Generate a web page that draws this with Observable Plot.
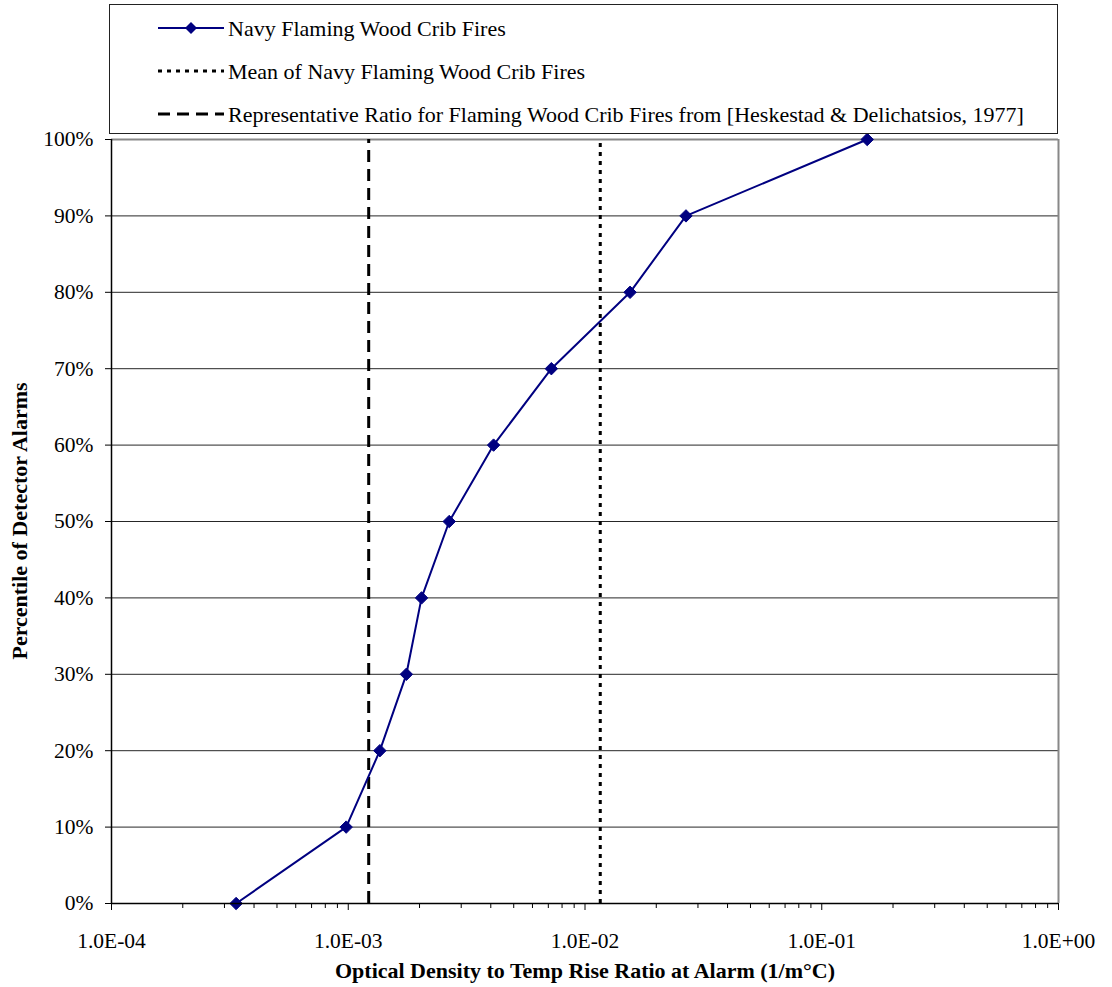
<!DOCTYPE html>
<html>
<head>
<meta charset="utf-8">
<script src="https://cdn.jsdelivr.net/npm/d3@7"></script>
<script src="https://cdn.jsdelivr.net/npm/@observablehq/plot@0.6"></script>
<style>
  html, body { margin: 0; padding: 0; background: #fff; }
  #wrap { position: relative; width: 1112px; height: 987px; font-family: 'Liberation Serif', 'Times New Roman', serif; }
  #wrap svg, #wrap svg text { font-family: 'Liberation Serif', 'Times New Roman', serif !important; }
  #legend { position: absolute; left: 109px; top: 4px; width: 947px; height: 128px; border: 1px solid #222; background: #fff; }
  #legend svg { position: absolute; left: 0; top: 0; }
</style>
</head>
<body>
<div id="wrap"></div>
<script>
// ---- data ----
const percentiles = [0, 0.1, 0.2, 0.3, 0.4, 0.5, 0.6, 0.7, 0.8, 0.9, 1.0];
const ratios = [3.36e-4, 9.8e-4, 1.36e-3, 1.76e-3, 2.04e-3, 2.67e-3, 4.11e-3, 7.21e-3, 1.55e-2, 2.67e-2, 0.1556];
const meanRatio = 1.16e-2;
const representativeRatio = 1.22e-3;
const xMajorTicks = [1e-4, 1e-3, 1e-2, 1e-1, 1];
const yTicks = [0, 0.1, 0.2, 0.3, 0.4, 0.5, 0.6, 0.7, 0.8, 0.9, 1.0];
const seriesNames = [
  "Navy Flaming Wood Crib Fires",
  "Mean of Navy Flaming Wood Crib Fires",
  "Representative Ratio for Flaming Wood Crib Fires from [Heskestad & Delichatsios, 1977]"
];
const xTitle = "Optical Density to Temp Rise Ratio at Alarm (1/m°C)";
const yTitle = "Percentile of Detector Alarms";

const data = percentiles.map((p, i) => ({ratio: ratios[i], pct: p}));
const xMinorTicks = [];
for (let e = -4; e < 0; e++) for (let k = 2; k <= 9; k++) xMinorTicks.push(k * Math.pow(10, e));

const fmtE = d => {
  const [m, e] = d.toExponential(1).split("e");
  const sign = e[0] === "-" ? "-" : "+";
  const digits = e.replace(/[+-]/, "").padStart(2, "0");
  return `${m}E${sign}${digits}`;
};

const NAVY = "#000080";
const FONT = "'Liberation Serif', 'Times New Roman', serif";

const chart = Plot.plot({
  width: 1112,
  height: 987,
  marginLeft: 111,
  marginRight: 54,
  marginTop: 139,
  marginBottom: 84,
  style: { fontFamily: FONT, fontSize: "21px", background: "#fff", color: "#000" },
  x: { type: "log", domain: [1e-4, 1] },
  y: { domain: [0, 1] },
  marks: [
    Plot.ruleY(yTicks.slice(1, -1), { stroke: "#000", strokeWidth: 1, strokeOpacity: 0.85 }),
    Plot.ruleY([1], { stroke: "#888", strokeWidth: 2 }),
    Plot.ruleX([1], { stroke: "#888", strokeWidth: 2 }),
    Plot.ruleX([meanRatio], { y1: 0, y2: 1, stroke: "#000", strokeWidth: 3, strokeDasharray: "4,5" }),
    Plot.ruleX([representativeRatio], { y1: 0, y2: 1, stroke: "#000", strokeWidth: 3, strokeDasharray: "12,7" }),
    Plot.line(data, { x: "ratio", y: "pct", stroke: NAVY, strokeWidth: 2 }),
    Plot.dot(data, { x: "ratio", y: "pct", symbol: "diamond2", r: 5.6, fill: NAVY, stroke: NAVY, strokeWidth: 1 }),
    Plot.ruleX([1e-4], { stroke: "#000", strokeWidth: 1.5 }),
    Plot.ruleY([0], { stroke: "#000", strokeWidth: 1.5 }),
    Plot.axisX(xMinorTicks, { tickSize: 5, tickFormat: () => "", label: null, stroke: "#000" }),
    Plot.axisX(xMajorTicks, { tickSize: 7, tickPadding: 22, tickFormat: fmtE, label: null, fontSize: 21.5, fontFamily: FONT, stroke: "#000" }),
    Plot.axisY(yTicks, { tickSize: 6, tickPadding: 12, tickFormat: d3.format(".0%"), label: null, fontSize: 21.5, fontFamily: FONT, stroke: "#000" })
  ]
});

const wrap = document.getElementById("wrap");
wrap.appendChild(chart);

// axis titles
const svg = d3.select(chart);
svg.append("text")
  .attr("x", 585).attr("y", 978)
  .attr("text-anchor", "middle")
  .attr("font-weight", "bold").attr("font-size", 22).attr("font-family", FONT)
  .text(xTitle);
svg.append("text")
  .attr("transform", "translate(27,521) rotate(-90)")
  .attr("text-anchor", "middle")
  .attr("font-weight", "bold").attr("font-size", 22).attr("font-family", FONT)
  .text(yTitle);

// legend
const legend = document.createElement("div");
legend.id = "legend";
wrap.appendChild(legend);
const lsvg = d3.select(legend).append("svg").attr("width", 947).attr("height", 128);
const rowsY = [23, 66, 109];
const styles = [
  { stroke: NAVY, width: 2, dash: null, marker: true },
  { stroke: "#000", width: 3, dash: "4,5", marker: false },
  { stroke: "#000", width: 3, dash: "12,7", marker: false }
];
seriesNames.forEach((name, i) => {
  const y = rowsY[i];
  const s = styles[i];
  const ln = lsvg.append("line").attr("x1", 48).attr("x2", 114).attr("y1", y).attr("y2", y)
    .attr("stroke", s.stroke).attr("stroke-width", s.width);
  if (s.dash) ln.attr("stroke-dasharray", s.dash);
  if (s.marker) {
    lsvg.append("path").attr("d", "M81,"+(y-6)+"L87,"+y+"L81,"+(y+6)+"L75,"+y+"Z").attr("fill", NAVY);
  }
  lsvg.append("text").attr("x", 118).attr("y", y).attr("dy", "0.35em")
    .attr("font-family", FONT).attr("font-size", 22).text(name);
});
</script>
</body>
</html>
